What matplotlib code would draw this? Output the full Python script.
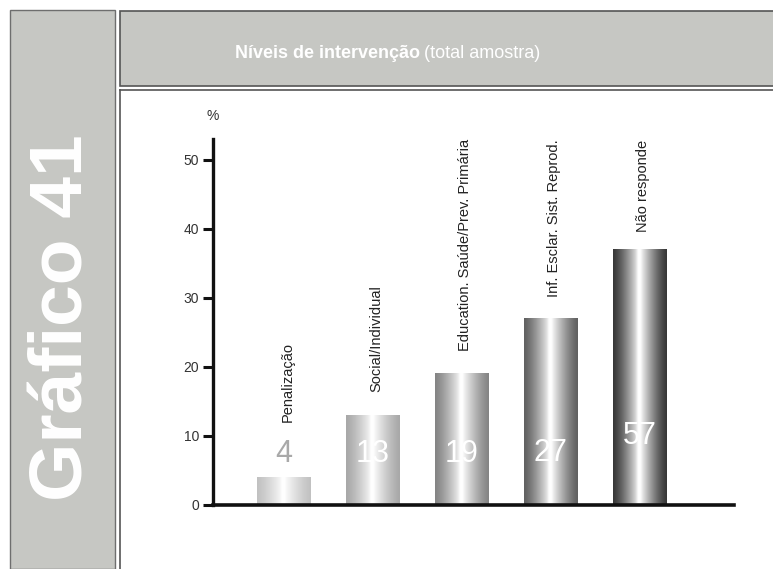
import numpy as np
import matplotlib
matplotlib.use("Agg")
import matplotlib.pyplot as plt
from matplotlib.patches import Rectangle
from matplotlib.lines import Line2D

plt.rcParams['font.family'] = ['Liberation Sans', 'DejaVu Sans']

# dados
categorias = ['Penalização', 'Social/Individual', 'Education. Saúde/Prev. Primária',
              'Inf. Esclar. Sist. Reprod.', 'Não responde']
valores = [4, 13, 19, 27, 37]
rotulos = ['4', '13', '19', '27', '57']
yticks = [0, 10, 20, 30, 40, 50]

# estilo (posicoes dos textos e tons das barras)
base_tons = [0.76, 0.66, 0.52, 0.38, 0.22]
y_nomes = [12.0, 16.4, 22.3, 30.1, 39.6]
y_rotulos = [7.4, 7.4, 7.4, 7.6, 10.0]
cor_rotulos = ['#a9a9a9', 'white', 'white', 'white', 'white']

W, H = 773, 569
fig = plt.figure(figsize=(W / 100, H / 100), dpi=100)
fig.patch.set_facecolor('white')

cinza = '#c6c7c3'
borda = '#6e6e6e'

# painel esquerdo
fig.add_artist(Rectangle((10 / W, 0), 105 / W, 559 / H, transform=fig.transFigure,
                         facecolor=cinza, edgecolor=borda, lw=1))
fig.text(63 / W, 1 - 318 / H, 'Gráfico 41', rotation=90, color='white',
         fontsize=54, fontweight='bold', ha='center', va='center')

# cabecalho
fig.add_artist(Rectangle((120 / W, 1 - 86 / H), 700 / W, 75 / H, transform=fig.transFigure,
                         facecolor=cinza, edgecolor='#555555', lw=1.2))
t1 = fig.text(235 / W, 1 - 53 / H, 'Níveis de intervenção', color='white',
              fontsize=13, fontweight='bold', ha='left', va='center')
fig.canvas.draw()
bb = t1.get_window_extent()
fig.text((bb.x1 + 4) / W, 1 - 53 / H, '(total amostra)', color='white',
         fontsize=13, ha='left', va='center')

# moldura do grafico
fig.add_artist(Line2D([120 / W, 120 / W], [0, 1 - 90 / H], transform=fig.transFigure,
                      color='#555555', lw=1.2))
fig.add_artist(Line2D([120 / W, 1], [1 - 90 / H, 1 - 90 / H], transform=fig.transFigure,
                      color='#555555', lw=1.2))

ax = fig.add_axes([213 / W, (H - 505) / H, (734 - 213) / W, (505 - 139) / H])
ax.set_facecolor('none')

x = np.arange(len(valores))
largura = 0.6
u = np.linspace(0, 1, 80)
for i, v in enumerate(valores):
    b = base_tons[i]
    g = 1 - np.abs(u - 0.5) * 2
    s = b + (1 - b) * g ** 1.3
    s = s + (1 - s) * np.exp(-((u - 0.48) / 0.035) ** 2)
    img = np.dstack([s, s, s]).reshape(1, len(u), 3)
    ax.imshow(img, extent=(x[i] - largura / 2, x[i] + largura / 2, 0, v),
              aspect='auto', zorder=2, interpolation='bilinear')
    ax.text(x[i], y_rotulos[i], rotulos[i], color=cor_rotulos[i], fontsize=22,
            ha='center', va='center', zorder=3)
    ax.text(x[i] + 0.04, y_nomes[i], categorias[i], rotation=90, fontsize=10.5,
            color='#222222', ha='center', va='bottom', zorder=3)

ax.set_xlim(-0.8, 5.06)
ax.set_ylim(0, 53)
ax.set_yticks(yticks)
ax.set_yticklabels([str(t) for t in yticks], fontsize=10, color='#333333')
ax.set_xticks([])
for s in ['top', 'right']:
    ax.spines[s].set_visible(False)
ax.spines['left'].set_linewidth(2.4)
ax.spines['bottom'].set_linewidth(2.6)
ax.spines['left'].set_color('#111111')
ax.spines['bottom'].set_color('#111111')
ax.tick_params(axis='y', direction='out', length=7, width=2.2, color='#111111', pad=3)
ax.text(0, 1.045, '%', transform=ax.transAxes, fontsize=10, color='#333333',
        ha='center', va='bottom')

fig.savefig('out.png', dpi=100)
